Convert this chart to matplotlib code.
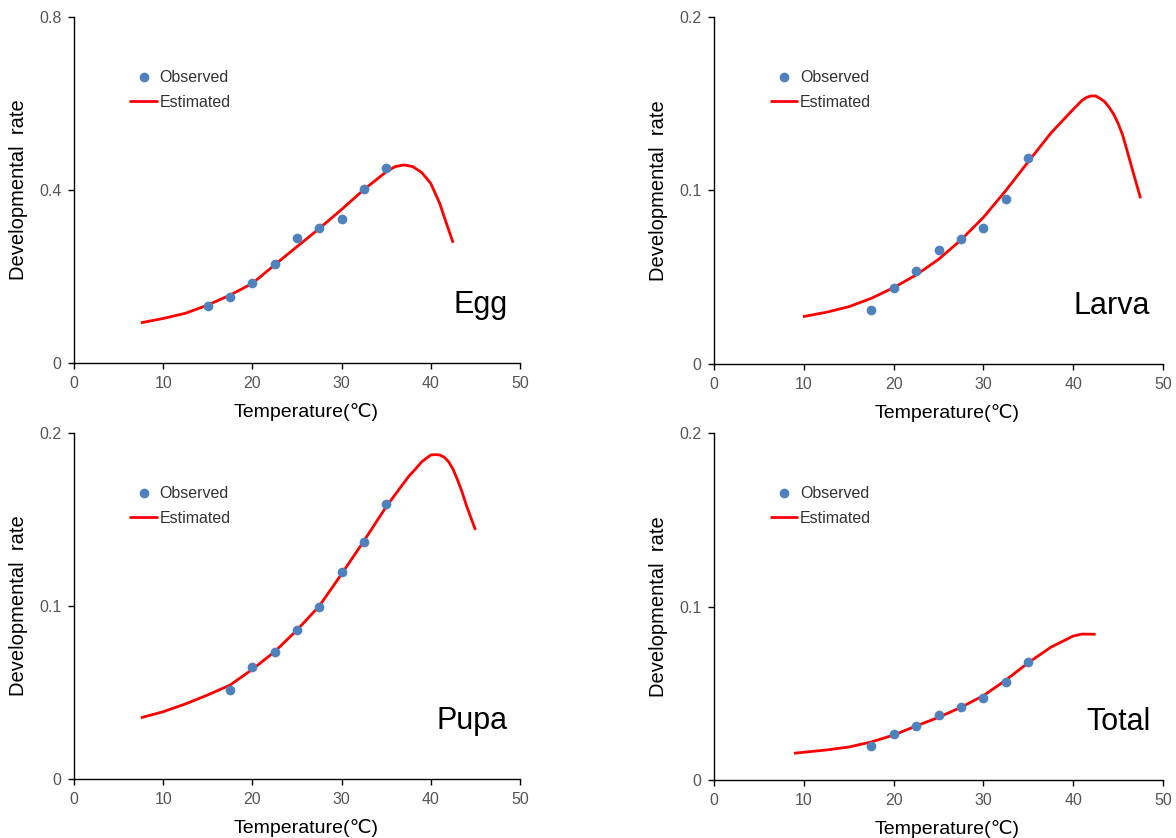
#!/usr/bin/env python3
"""Developmental rate vs temperature: observed points and fitted curve, four stages."""
import matplotlib
matplotlib.use("Agg")
import matplotlib.pyplot as plt  # noqa: E402

plt.rcParams["font.family"] = ["Liberation Sans", "DejaVu Sans"]

stages = ["Egg", "Larva", "Pupa", "Total"]

# observed means
egg_obs_t = [15, 17.5, 20, 22.5, 25, 27.5, 30, 32.5, 35]
egg_obs_r = [0.132, 0.153, 0.185, 0.229, 0.290, 0.313, 0.334, 0.402, 0.451]
larva_obs_t = [17.5, 20, 22.5, 25, 27.5, 30, 32.5, 35]
larva_obs_r = [0.0311, 0.044, 0.0536, 0.0659, 0.0722, 0.0786, 0.0951, 0.119]
pupa_obs_t = [17.5, 20, 22.5, 25, 27.5, 30, 32.5, 35]
pupa_obs_r = [0.0516, 0.0645, 0.0736, 0.086, 0.0996, 0.1195, 0.1372, 0.1588]
total_obs_t = [17.5, 20, 22.5, 25, 27.5, 30, 32.5, 35]
total_obs_r = [0.0196, 0.0265, 0.0311, 0.0375, 0.0421, 0.0474, 0.0562, 0.0682]

# estimated curves
egg_est_t = [7.5, 10, 12.5, 15, 17.5, 20, 22.5, 25, 27.5, 30, 32.5, 35, 36, 37,
             38, 39, 40, 41, 41.5, 42, 42.5]
egg_est_r = [0.093, 0.103, 0.115, 0.134, 0.157, 0.184, 0.227, 0.269, 0.311, 0.355,
             0.401, 0.442, 0.454, 0.458, 0.454, 0.440, 0.415, 0.369, 0.338, 0.308, 0.278]
larva_est_t = [9.9, 12.5, 15, 17.5, 20, 22.5, 25, 27.5, 30, 32.5, 35, 37.5, 40, 41,
               41.5, 42, 42.5, 43, 43.5, 44, 44.5, 45, 45.5, 46, 46.5, 47.5]
larva_est_r = [0.0273, 0.0298, 0.033, 0.0378, 0.044, 0.0513, 0.0603, 0.0715, 0.0845,
               0.100, 0.1166, 0.133, 0.1468, 0.152, 0.1537, 0.1545, 0.1545, 0.153,
               0.1512, 0.148, 0.144, 0.1387, 0.132, 0.123, 0.1137, 0.0955]
pupa_est_t = [7.5, 10, 12.5, 15, 17.5, 20, 22.5, 25, 27.5, 30, 32.5, 35, 37.5, 38,
              39, 39.5, 40, 40.5, 41, 41.5, 42, 42.5, 43, 43.5, 44, 45]
pupa_est_r = [0.0354, 0.0389, 0.0434, 0.0486, 0.0543, 0.0634, 0.0736, 0.0861, 0.100,
              0.1185, 0.1376, 0.1574, 0.1748, 0.1776, 0.1834, 0.1854, 0.1873, 0.1875,
              0.1873, 0.186, 0.1834, 0.179, 0.1728, 0.166, 0.158, 0.144]
total_est_t = [8.9, 10, 12.5, 15, 17.5, 20, 22.5, 25, 27.5, 30, 32.5, 35, 37.5, 40,
               41, 42.5]
total_est_r = [0.0154, 0.016, 0.0173, 0.019, 0.0219, 0.0259, 0.0311, 0.0361, 0.0419,
               0.0486, 0.0576, 0.0676, 0.0765, 0.083, 0.0841, 0.084]

y_max = [0.8, 0.2, 0.2, 0.2]
y_ticks = [[0, 0.4, 0.8], [0, 0.1, 0.2], [0, 0.1, 0.2], [0, 0.1, 0.2]]
y_ticklabels = [["0", "0.4", "0.8"], ["0", "0.1", "0.2"],
                ["0", "0.1", "0.2"], ["0", "0.1", "0.2"]]
x_ticks = [0, 10, 20, 30, 40, 50]

obs = [(egg_obs_t, egg_obs_r), (larva_obs_t, larva_obs_r),
       (pupa_obs_t, pupa_obs_r), (total_obs_t, total_obs_r)]
est = [(egg_est_t, egg_est_r), (larva_est_t, larva_est_r),
       (pupa_est_t, pupa_est_r), (total_est_t, total_est_r)]

W, H = 1176, 838
# axes boxes in pixels: left, right, top, bottom
boxes = [(74, 520, 17, 363), (714, 1163, 17, 364),
         (74, 520, 433, 779), (714, 1163, 433, 780)]

fig = plt.figure(figsize=(W / 100, H / 100), dpi=100)
for i, name in enumerate(stages):
    l, r, t, b = boxes[i]
    ax = fig.add_axes([l / W, 1 - b / H, (r - l) / W, (b - t) / H])
    ax.plot(est[i][0], est[i][1], color="#ff0000", lw=2.0, label="Estimated",
            solid_capstyle="butt", solid_joinstyle="round", zorder=2)
    ax.plot(obs[i][0], obs[i][1], "o", color="#4f81bd", ms=7, mec="none",
            label="Observed", zorder=3)
    ax.set_xlim(0, 50)
    ax.set_ylim(0, y_max[i])
    ax.set_xticks(x_ticks)
    ax.set_yticks(y_ticks[i])
    ax.set_yticklabels(y_ticklabels[i])
    for s in ("top", "right"):
        ax.spines[s].set_visible(False)
    for s in ("left", "bottom"):
        ax.spines[s].set_linewidth(1.0)
    ax.tick_params(direction="out", length=4, width=1, labelsize=11.5,
                   labelcolor="#555555", pad=5)
    ax.set_xlabel("Temperature(℃)", fontsize=14,
                  family=["Liberation Sans", "DejaVu Sans"])
    ax.xaxis.set_label_coords(0.52, -0.115)
    ax.set_ylabel("Developmental  rate", fontsize=14.5, labelpad=8)
    ax.text(0.972, 0.168, name, transform=ax.transAxes, ha="right", va="center",
            fontsize=22)
    handles, labels = ax.get_legend_handles_labels()
    ax.legend(handles[::-1], labels[::-1], loc="upper left",
              bbox_to_anchor=(0.124, 0.846), frameon=False, fontsize=11.5,
              handlelength=1.8, handletextpad=0.1, labelspacing=0.6,
              borderpad=0, borderaxespad=0, labelcolor="#333333")

fig.savefig("out.png", dpi=100)
